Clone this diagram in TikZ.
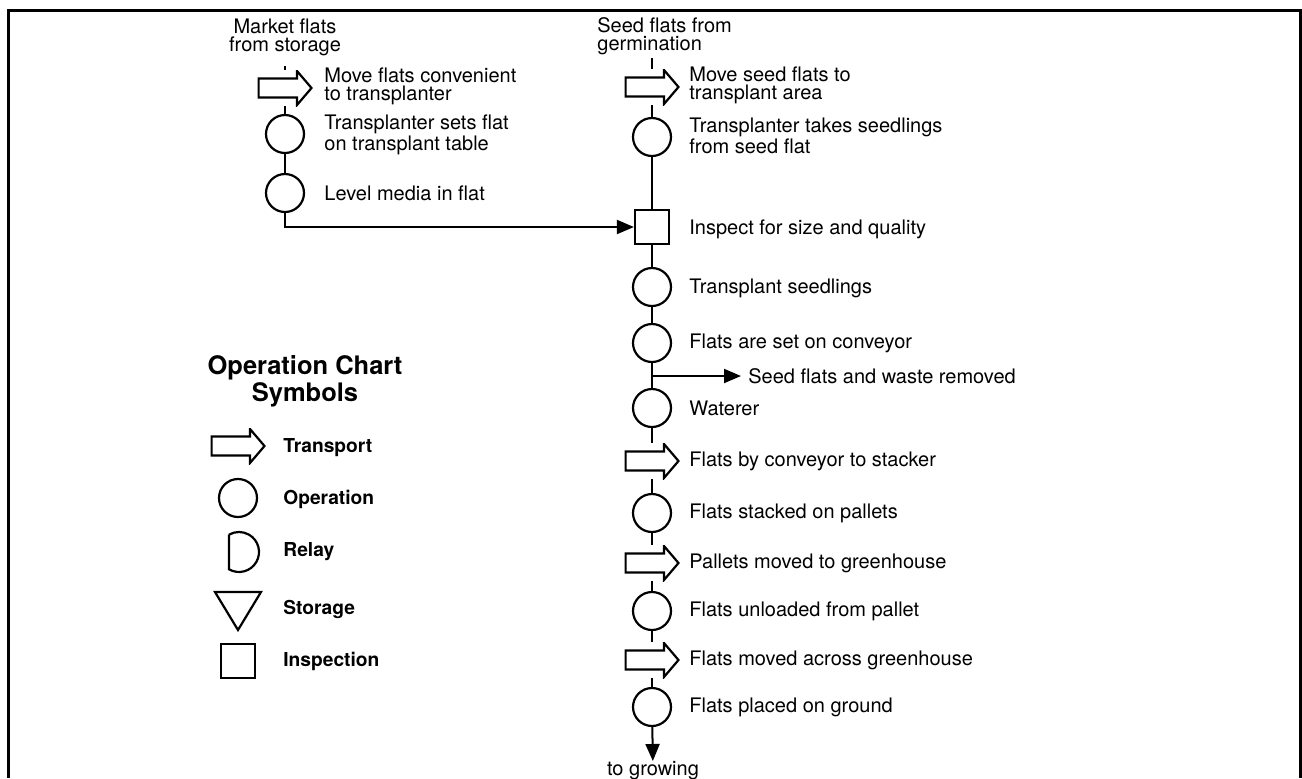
\documentclass[tikz,border=0pt]{standalone}
\usepackage{fontspec}
\setmainfont{TeX Gyre Heros}
\usetikzlibrary{arrows.meta}
\tikzset{
  op/.style={circle, draw, line width=1.1pt, minimum size=19pt, inner sep=0pt},
  insp/.style={rectangle, draw, line width=1.1pt, minimum size=17pt, inner sep=0pt},
  transport/.style={rectangle, minimum width=27.5pt, minimum height=18pt, inner sep=0pt,
    path picture={\draw[line width=1.1pt, shift={(path picture bounding box.center)}]
      (-26.5,-9.5) -- (12,-9.5) -- (12,-17) -- (26.5,0) -- (12,17) -- (12,9.5) -- (-26.5,9.5) -- cycle;}},
  txt/.style={anchor=west, align=left, inner sep=0pt},
  key/.style={anchor=west, inner sep=0pt, font=\fontsize{9.6}{11}\selectfont\bfseries},
  flow/.style={line width=1pt},
  flowarrow/.style={line width=1pt, -{Triangle[length=8.5pt,width=7pt]}},
}
\begin{document}
\begin{tikzpicture}[x=0.5pt, y=-0.5pt, font=\fontsize{10}{9}\selectfont]
  \useasboundingbox (0,0) rectangle (1302,778);
  % frame, open at the bottom
  \draw[line width=1.5pt] (8,778) -- (8,10) -- (1300,10) -- (1300,778);

  % left column
  \node[align=center, inner sep=0pt] (mkt) at (285,37) {Market flats\\from storage};
  \coordinate (mktend) at (285,66);
  \node[transport] (lt1) at (285,88) {};
  \node[txt] (lt1l) at (324,86) {Move flats convenient\\to transplanter};
  \node[op] (lo1) at (285,134) {};
  \node[txt] (lo1l) at (324,135) {Transplanter sets flat\\on transplant table};
  \node[op] (lo2) at (285,193) {};
  \node[txt] (lo2l) at (324,193) {Level media in flat};

  % right column
  \node[txt] (seed) at (597,36) {Seed flats from\\germination};
  \coordinate (seedend) at (652,58);
  \node[transport] (t1) at (652,87) {};
  \node[txt] (t1l) at (689,85) {Move seed flats to\\transplant area};
  \node[op] (o1) at (652,137) {};
  \node[txt] (o1l) at (689,136) {Transplanter takes seedlings\\from seed flat};
  \node[insp] (sq) at (652,227) {};
  \node[txt] (sql) at (689,229) {Inspect for size and quality};
  \node[op] (o2) at (652,287) {};
  \node[txt] (o2l) at (689,288) {Transplant seedlings};
  \node[op] (o3) at (652,343) {};
  \node[txt] (o3l) at (689,343) {Flats are set on conveyor};
  \coordinate (j) at (652,376);
  \node[txt, inner sep=3.5pt] (waste) at (741,376) {Seed flats and waste removed};
  \node[op] (o4) at (652,408) {};
  \node[txt] (o4l) at (689,408) {Waterer};
  \node[transport] (t2) at (652,461) {};
  \node[txt] (t2l) at (689,461) {Flats by conveyor to stacker};
  \node[op] (o5) at (652,513) {};
  \node[txt] (o5l) at (689,513) {Flats stacked on pallets};
  \node[transport] (t3) at (652,563) {};
  \node[txt] (t3l) at (689,563) {Pallets moved to greenhouse};
  \node[op] (o6) at (652,611) {};
  \node[txt] (o6l) at (689,611) {Flats unloaded from pallet};
  \node[transport] (t4) at (652,660) {};
  \node[txt] (t4l) at (689,660) {Flats moved across greenhouse};
  \node[op] (o7) at (652,707) {};
  \node[txt] (o7l) at (689,707) {Flats placed on ground};
  \node[inner sep=0pt, anchor=north] (grow) at (653,761) {to growing};

  % connectors
  \draw[flow] (mktend) -- (lt1) -- (lo1) -- (lo2);
  \draw[flowarrow] (lo2) |- (sq);
  \draw[flow] (seedend) -- (t1) -- (o1) -- (sq) -- (o2) -- (o3) -- (j) -- (o4)
    -- (t2) -- (o5) -- (t3) -- (o6) -- (t4) -- (o7);
  \draw[flowarrow] (j) -- (waste);
  \draw[flowarrow] (o7) -- (grow);

  % legend
  \node[align=center, inner sep=0pt, font=\fontsize{12.75}{13.5}\selectfont\bfseries]
    (legend) at (305,381) {Operation Chart\\Symbols};
  \node[transport] (kt) at (238,446) {};
  \node[key] (ktl) at (283,448) {Transport};
  \node[op] (ko) at (238,498) {};
  \node[key] (kol) at (283,499) {Operation};
  \draw[line width=1.1pt] (229,534.7) -- (229,569.3) arc[start angle=120, end angle=-120, radius=20];
  \node[key] (krl) at (283,552) {Relay};
  \draw[line width=1.1pt, line join=miter] (215,592) -- (261,592) -- (238,630) -- cycle;
  \node[key] (ksl) at (283,609) {Storage};
  \node[insp] (ki) at (238,661) {};
  \node[key] (kil) at (283,661) {Inspection};
\end{tikzpicture}
\end{document}
